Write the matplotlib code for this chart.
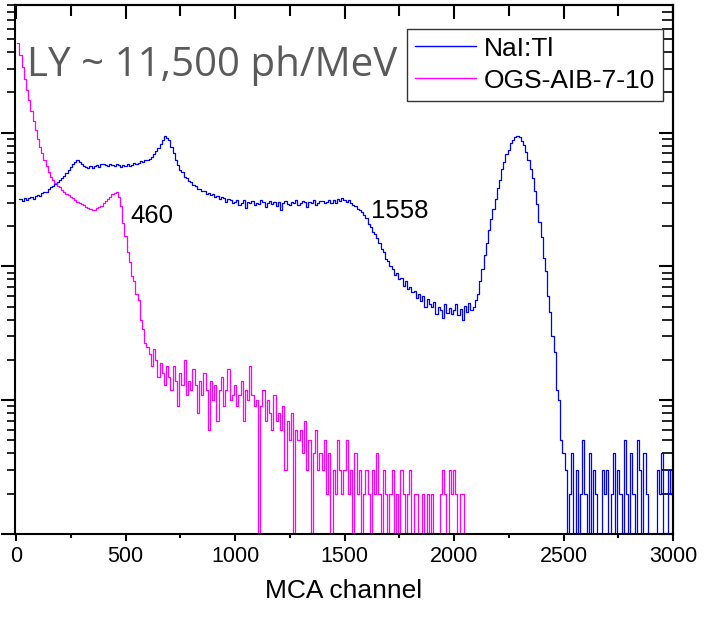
import numpy as np
import matplotlib
matplotlib.use("Agg")
import matplotlib.pyplot as plt
from matplotlib.ticker import MultipleLocator, LogLocator, NullFormatter

nan = np.nan

# MCA channel grid (10-channel sampling of the spectra)
channels = np.arange(0, 3001, 10)

# NaI:Tl spectrum (counts), channels 0..3000 step 10
nai_counts = [
    nan, nan, 318, 308, 326, 315, 322, 330, 318, 335,
    342, 338, 352, 360, 358, 378, 390, 396, 415, 428,
    445, 462, 478, 500, 528, 552, 585, 600, 628, 605,
    582, 560, 552, 548, 560, 545, 568, 575, 558, 580,
    586, 572, 560, 588, 575, 562, 580, 570, 556, 572,
    568, 582, 560, 578, 595, 582, 598, 610, 602, 625,
    622, 638, 660, 690, 735, 770, 825, 880, 945, 915,
    875, 785, 705, 620, 575, 525, 505, 470, 460, 438,
    428, 405, 398, 382, 378, 365, 368, 350, 355, 340,
    345, 332, 338, 318, 328, 322, 305, 318, 312, 298,
    305, 312, 290, 300, 315, 272, 302, 296, 310, 288,
    300, 292, 315, 302, 278, 298, 310, 295, 302, 284,
    305, 262, 298, 310, 295, 288, 305, 300, 312, 290,
    298, 310, 302, 278, 305, 298, 312, 290, 300, 308,
    310, 298, 305, 315, 300, 312, 296, 318, 308, 322,
    316, 302, 312, 298, 290, 282, 270, 262, 256, 242,
    232, 208, 198, 182, 176, 162, 150, 135, 128, 114,
    110, 100, 96, 86, 90, 80, 82, 72, 78, 68,
    70, 64, 66, 58, 62, 55, 60, 50, 57, 52,
    50, 54, 44, 50, 47, 41, 52, 45, 49, 44,
    47, 52, 43, 48, 40, 51, 46, 53, 47, 50,
    56, 62, 78, 96, 122, 150, 188, 225, 268, 318,
    385, 445, 535, 605, 690, 745, 830, 875, 935, 945,
    925, 865, 805, 715, 625, 535, 455, 365, 295, 215,
    165, 115, 92, 60, 46, 30, 23, 12, 10, 5,
    4, 3, 0, 2, 4, 1, 3, 0, 2, 5,
    2, 0, 4, 1, 3, 2, 0, 1, 3, 2,
    3, 0, 2, 4, 1, 3, 2, 0, 5, 2,
    1, 4, 2, 0, 5, 3, 1, 4, 2, 0,
    1, 0, 0, 3, 2, 4, 1, 0, 3, 2,
    3,
]

# OGS-AIB-7-10 spectrum (counts), channels 0..2050 step 10
ogs_counts = [
    nan, 4700, 3800, 3100, 2500, 2100, 1740, 1460, 1230, 1050,
    900, 780, 700, 620, 560, 510, 470, 440, 420, 400,
    392, 375, 362, 348, 342, 330, 322, 315, 305, 298,
    292, 286, 278, 272, 268, 262, 266, 272, 276, 284,
    296, 308, 320, 332, 345, 352, 360, 328, 285, 212,
    170, 128, 108, 85, 78, 62, 56, 40, 34, 27,
    25, 22, 18, 24, 20, 15, 19, 16, 13, 18,
    15, 12, 18, 14, 9, 16, 13, 20, 11, 14,
    12, 17, 13, 8, 14, 11, 16, 12, 6, 14,
    10, 13, 7, 12, 15, 9, 12, 17, 10, 11,
    13, 9, 11, 14, 7, 12, 10, 18, 11, 9,
    10, 0, 9, 12, 7, 10, 8, 6, 11, 7,
    8, 6, 9, 3, 7, 5, 8, 0, 6, 5,
    6, 4, 7, 3, 5, 0, 4, 6, 3, 4,
    3, 5, 2, 4, 0, 3, 2, 5, 3, 2,
    3, 5, 2, 3, 0, 4, 2, 3, 1, 2,
    3, 2, 0, 3, 2, 4, 2, 0, 3, 2,
    0, 2, 3, 0, 2, 1, 3, 2, 0, 2,
    3, 0, 2, 2, 0, 1, 2, 0, 2, 0,
    2, 0, 1, 0, 2, 3, 2, 0, 3, 2,
    3, 2, 0, 2, 2, 0,
]

series_labels = ["NaI:Tl", "OGS-AIB-7-10"]
series_colors = ["#0000FF", "#FF00FF"]
peak_labels = ["460", "1558"]
peak_pos = [(521, 213), (1619, 232)]

fig = plt.figure(figsize=(7.05, 6.17), dpi=100)
ax = fig.add_axes([15 / 705, 83 / 617, 658 / 705, 529 / 617])

ax.plot(channels, np.array(nai_counts, dtype=float), color=series_colors[0],
        lw=0.9, drawstyle="steps-mid", label=series_labels[0])
ax.plot(channels[:len(ogs_counts)], np.array(ogs_counts, dtype=float),
        color=series_colors[1], lw=0.9, drawstyle="steps-mid",
        label=series_labels[1])

ax.set_yscale("log", nonpositive="clip")
ax.set_xlim(-5, 3000)
ax.set_ylim(1, 9000)

# ticks: bottom/left outward, top/right inward
ax.xaxis.set_major_locator(MultipleLocator(500))
ax.xaxis.set_minor_locator(MultipleLocator(250))
ax.yaxis.set_major_locator(LogLocator(base=10))
ax.yaxis.set_minor_locator(LogLocator(base=10, subs=np.arange(2, 10)))
ax.yaxis.set_major_formatter(NullFormatter())
ax.yaxis.set_minor_formatter(NullFormatter())
ax.tick_params(axis="x", which="major", direction="out", length=5, width=1.5,
               labelsize=15.5, pad=4)
ax.tick_params(axis="x", which="minor", direction="out", length=3, width=1.5)
ax.tick_params(axis="y", which="major", direction="out", length=10, width=1.5)
ax.tick_params(axis="y", which="minor", direction="out", length=6, width=1.2)
for lab in ax.get_xticklabels():
    lab.set_fontfamily("Liberation Sans")

secx = ax.secondary_xaxis("top")
secx.xaxis.set_major_locator(MultipleLocator(500))
secx.xaxis.set_minor_locator(MultipleLocator(250))
secx.tick_params(which="major", direction="in", length=10, width=1.5, labeltop=False)
secx.tick_params(which="minor", direction="in", length=8, width=1.5)
secx.spines["top"].set_linewidth(1.5)

secy = ax.secondary_yaxis("right")
secy.set_yscale("log")
secy.yaxis.set_major_locator(LogLocator(base=10))
secy.yaxis.set_minor_locator(LogLocator(base=10, subs=np.arange(2, 10)))
secy.yaxis.set_major_formatter(NullFormatter())
secy.yaxis.set_minor_formatter(NullFormatter())
secy.tick_params(which="major", direction="in", length=10, width=1.5)
secy.tick_params(which="minor", direction="in", length=8, width=1.2)
secy.spines["right"].set_linewidth(1.5)

for s in ax.spines.values():
    s.set_linewidth(1.5)

ax.set_xlabel("MCA channel", fontsize=19, family="Liberation Sans", labelpad=8)

for txt, (px, py) in zip(peak_labels, peak_pos):
    ax.text(px, py, txt, fontsize=18.5, family="Liberation Sans", va="baseline")

ax.text(0.018, 0.865, "LY ~ 11,500 ph/MeV", transform=ax.transAxes,
        fontsize=29, family="Open Sans", color="#5a5a5a", va="baseline")

leg = ax.legend(loc="upper right", bbox_to_anchor=(0.985, 0.955),
                borderaxespad=0, fancybox=False, framealpha=1,
                edgecolor="#333333", prop={"family": "Liberation Sans", "size": 19},
                handlelength=2.3, handletextpad=0.3, labelspacing=0.3,
                borderpad=0.3)
leg.get_frame().set_linewidth(1.0)
for line in leg.get_lines():
    line.set_linewidth(1.0)

fig.savefig("out.png", dpi=100)
